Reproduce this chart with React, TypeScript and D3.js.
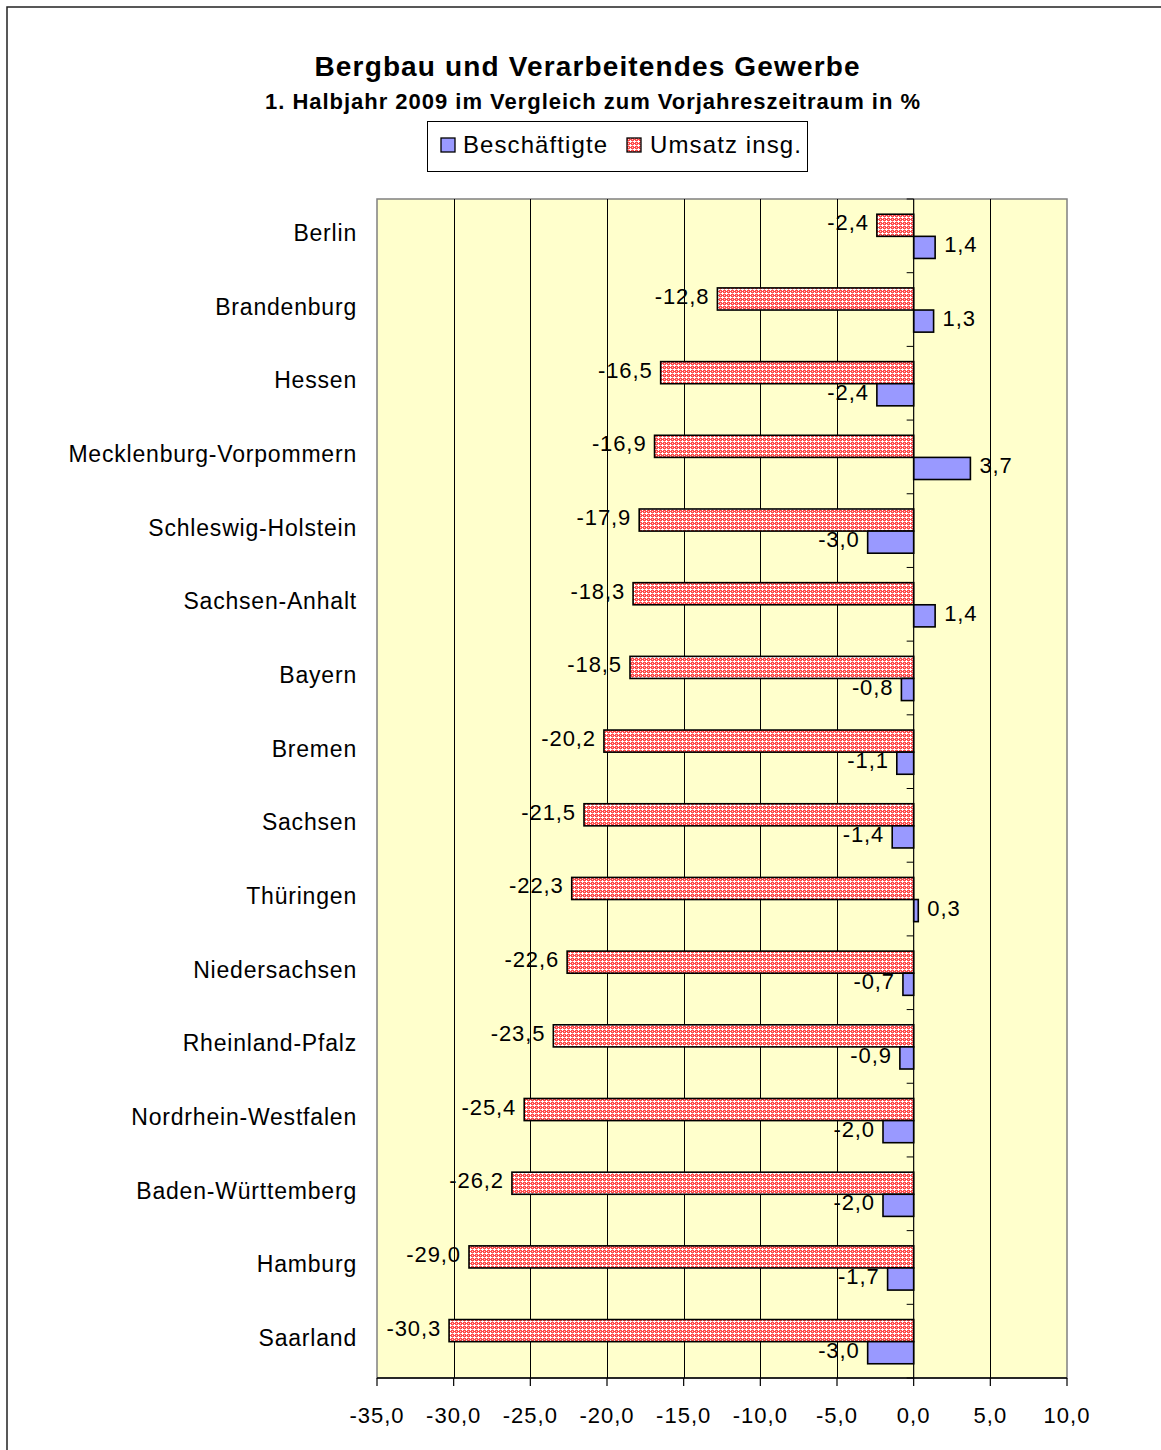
import React from "react";
import * as d3 from "d3";

const categories = [
  "Berlin",
  "Brandenburg",
  "Hessen",
  "Mecklenburg-Vorpommern",
  "Schleswig-Holstein",
  "Sachsen-Anhalt",
  "Bayern",
  "Bremen",
  "Sachsen",
  "Thüringen",
  "Niedersachsen",
  "Rheinland-Pfalz",
  "Nordrhein-Westfalen",
  "Baden-Württemberg",
  "Hamburg",
  "Saarland",
];
const umsatz = [-2.4, -12.8, -16.5, -16.9, -17.9, -18.3, -18.5, -20.2, -21.5, -22.3, -22.6, -23.5, -25.4, -26.2, -29.0, -30.3];
const beschaeftigte = [1.4, 1.3, -2.4, 3.7, -3.0, 1.4, -0.8, -1.1, -1.4, 0.3, -0.7, -0.9, -2.0, -2.0, -1.7, -3.0];
const xTicks = [-35, -30, -25, -20, -15, -10, -5, 0, 5, 10];
const title = "Bergbau und Verarbeitendes Gewerbe";
const subtitle = "1. Halbjahr 2009 im Vergleich zum Vorjahreszeitraum in %";
const seriesNames = ["Beschäftigte", "Umsatz insg."];

const W = 1161;
const H = 1450;
const FONT = "'Liberation Sans', Arial, Helvetica, sans-serif";
const plot = { left: 377, right: 1067, top: 199, bottom: 1378 };

const fmt = (v: number) => d3.format(".1f")(v).replace(".", ",").replace("−", "-");

export default function App() {
  const x = d3.scaleLinear().domain([-35, 10]).range([plot.left, plot.right]);
  const y = d3.scaleBand<string>().domain(categories).range([plot.top, plot.bottom]).paddingInner(0).paddingOuter(0);
  const bw = y.bandwidth();
  const barH = bw * 0.3;
  const x0 = x(0);

  const bars = (vals: number[], offset: number, fill: string, key: string) =>
    vals.map((v, i) => {
      const yy = (y(categories[i]) as number) + bw * offset + 0.5;
      const xa = Math.min(x(v), x0);
      const w = Math.abs(x(v) - x0);
      const cy = yy + barH / 2;
      const lx = v < 0 ? x(v) - 8 : x(v) + 9;
      return (
        <g key={key + i}>
          <rect x={xa} y={yy} width={w} height={barH} fill={fill} stroke="#000" strokeWidth={1.6} />
          <text
            x={lx}
            y={cy + 5}
            textAnchor={v < 0 ? "end" : "start"}
            fontSize={22}
            letterSpacing={0.9}
            fontFamily={FONT}
            fill="#000"
          >
            {fmt(v)}
          </text>
        </g>
      );
    });

  const boundaries = d3.range(categories.length + 1).map((i) => plot.top + i * bw);

  return (
    <svg
      width={W}
      height={H}
      viewBox={`0 0 ${W} ${H}`}
      style={{ position: "absolute", left: 0, top: 0, background: "#fff" }}
    >
      <defs>
        <pattern id="hatch" width={4} height={4} patternUnits="userSpaceOnUse">
          <rect width={4} height={4} fill="#ff4a4a" />
          <rect x={2} y={0} width={1} height={3} fill="#ffffff" />
          <rect x={1} y={1} width={3} height={1} fill="#ffffff" />
          <rect x={0} y={3} width={1} height={1} fill="#ffc8c8" />
          <rect x={0} y={1} width={1} height={1} fill="#ff9a9a" />
        </pattern>
      </defs>
      <rect x={7} y={7} width={W + 10} height={H + 10} fill="#fff" stroke="#222" strokeWidth={1.5} />

      {/* Title */}
      <text x={587} y={76} textAnchor="middle" fontSize={28} fontWeight="bold" fontFamily={FONT} textLength={545} lengthAdjust="spacing">
        {title}
      </text>
      <text x={592.5} y={109} textAnchor="middle" fontSize={22} fontWeight="bold" fontFamily={FONT} textLength={655} lengthAdjust="spacing">
        {subtitle}
      </text>

      {/* Legend */}
      <rect x={427.5} y={121.5} width={380} height={50} fill="#fff" stroke="#000" strokeWidth={1} />
      <rect x={441} y={138} width={14} height={14} fill="#9999ff" stroke="#000" strokeWidth={1.3} />
      <text x={463} y={153} fontSize={24} fontFamily={FONT} textLength={144} lengthAdjust="spacing">
        {seriesNames[0]}
      </text>
      <rect x={627} y={138} width={14} height={14} fill="url(#hatch)" stroke="#000" strokeWidth={1.3} />
      <text x={650} y={153} fontSize={24} fontFamily={FONT} textLength={151} lengthAdjust="spacing">
        {seriesNames[1]}
      </text>

      {/* Plot area */}
      <rect
        x={plot.left}
        y={plot.top}
        width={plot.right - plot.left}
        height={plot.bottom - plot.top}
        fill="#ffffcc"
        stroke="#808080"
        strokeWidth={1.5}
      />
      {xTicks
        .filter((t) => t !== 0 && t !== -35 && t !== 10)
        .map((t) => (
          <line key={"g" + t} x1={Math.round(x(t)) + 0.5} x2={Math.round(x(t)) + 0.5} y1={plot.top} y2={plot.bottom} stroke="#000" strokeWidth={1} />
        ))}

      {bars(umsatz, 0.2, "url(#hatch)", "u")}
      {bars(beschaeftigte, 0.5, "#9999ff", "b")}

      {/* Category axis at 0 */}
      <line x1={x0} x2={x0} y1={plot.top} y2={plot.bottom} stroke="#000" strokeWidth={1.2} />
      {boundaries.map((b, i) => (
        <line key={"ct" + i} x1={x0 - 7} x2={x0} y1={b} y2={b} stroke="#000" strokeWidth={1} />
      ))}

      {/* Bottom axis */}
      <line x1={plot.left} x2={plot.right} y1={plot.bottom} y2={plot.bottom} stroke="#000" strokeWidth={1.5} />
      {xTicks.map((t) => (
        <g key={"xt" + t}>
          <line x1={x(t)} x2={x(t)} y1={plot.bottom} y2={plot.bottom + 8} stroke="#000" strokeWidth={1.2} />
          <text x={x(t)} y={1423} textAnchor="middle" fontSize={22} letterSpacing={1} fontFamily={FONT}>
            {fmt(t)}
          </text>
        </g>
      ))}

      {/* Category labels */}
      {categories.map((c) => (
        <text
          key={c}
          x={357}
          y={(y(c) as number) + bw / 2 + 5}
          textAnchor="end"
          fontSize={23}
          letterSpacing={0.8}
          fontFamily={FONT}
        >
          {c}
        </text>
      ))}
    </svg>
  );
}
